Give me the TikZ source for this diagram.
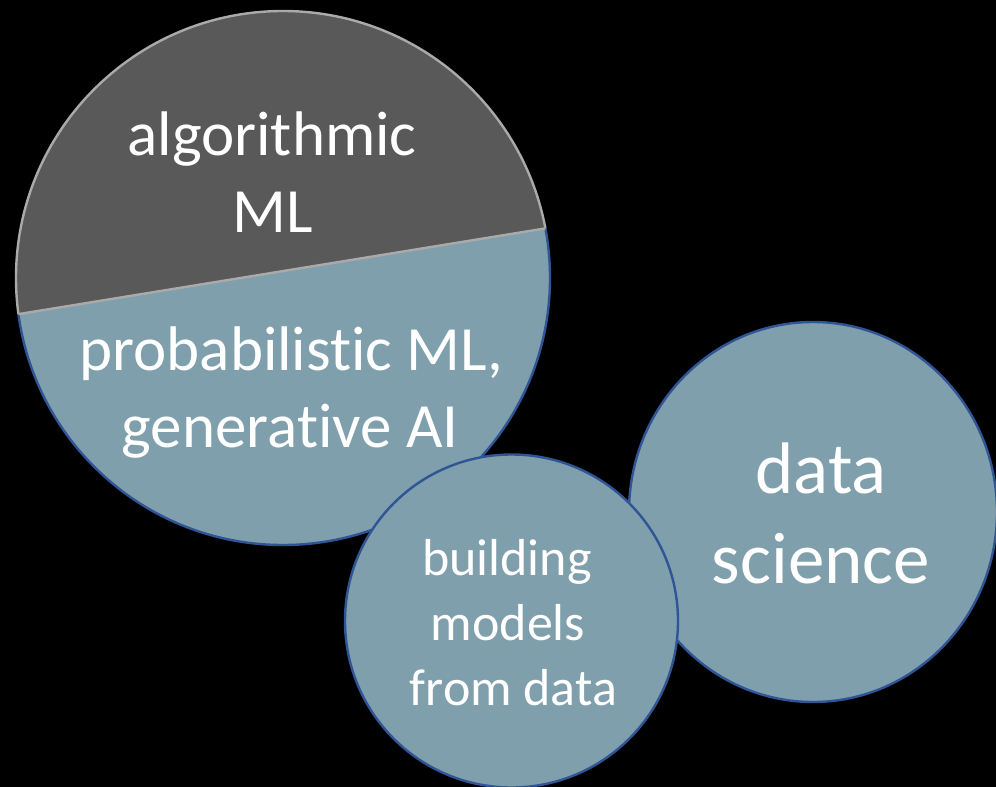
\documentclass[tikz,border=0pt]{standalone}
\usepackage{fontspec}
\setmainfont{Carlito}[Ligatures={NoCommon}]
\definecolor{bluegray}{RGB}{127,159,172}
\definecolor{darkfill}{RGB}{89,89,89}
\definecolor{edgeblue}{RGB}{47,85,151}
\definecolor{edgegray}{RGB}{170,170,170}
\tikzset{
  lbl/.style={text=white, inner sep=0pt, anchor=base},
  big/.style={lbl, font=\fontsize{63}{76}\selectfont},
  mid/.style={lbl, font=\fontsize{52}{63}\selectfont},
  huge/.style={lbl, font=\fontsize{73}{88}\selectfont},
  blueedge/.style={draw=edgeblue, line width=2.4pt},
  grayedge/.style={draw=edgegray, line width=2.4pt}
}
\begin{document}
\begin{tikzpicture}[x=1pt,y=-1pt]
\fill[black] (0,0) rectangle (996,787);
\useasboundingbox (0,0) rectangle (996,787);
% big circle
\coordinate (bc) at (283,278);
\fill[bluegray] (bc) circle (267);
\begin{scope}
  \clip (10,315.5) -- (560,226) -- (560,0) -- (0,0) -- cycle;
  \fill[darkfill] (bc) circle (267);
  \draw[grayedge] (bc) circle (267);
\end{scope}
\begin{scope}
  \clip (10,315.5) -- (560,226) -- (560,600) -- (0,600) -- cycle;
  \draw[blueedge] (bc) circle (267);
\end{scope}
\begin{scope}
  \clip (bc) circle (267);
  \draw[grayedge] (10,315.5) -- (560,226);
\end{scope}
% data science circle
\filldraw[fill=bluegray, blueedge] (813,512) ellipse [x radius=184, y radius=190];
% building models circle
\filldraw[fill=bluegray, blueedge] (511.5,621) circle (166.5);
% labels
\node[big] (alg) at (272,155) {algorithmic};
\node[big] (ml) at (272.5,232) {ML};
\node[big] (prob) at (291.5,370) {probabilistic ML,};
\node[big] (gen) at (290,447) {generative AI};
\node[mid] (bld) at (507,575) {building};
\node[mid] (mod) at (508,640) {models};
\node[mid] (frm) at (513.5,705) {from data};
\node[huge] (dat) at (821,493) {data};
\node[huge] (sci) at (821,583) {science};
\end{tikzpicture}
\end{document}
